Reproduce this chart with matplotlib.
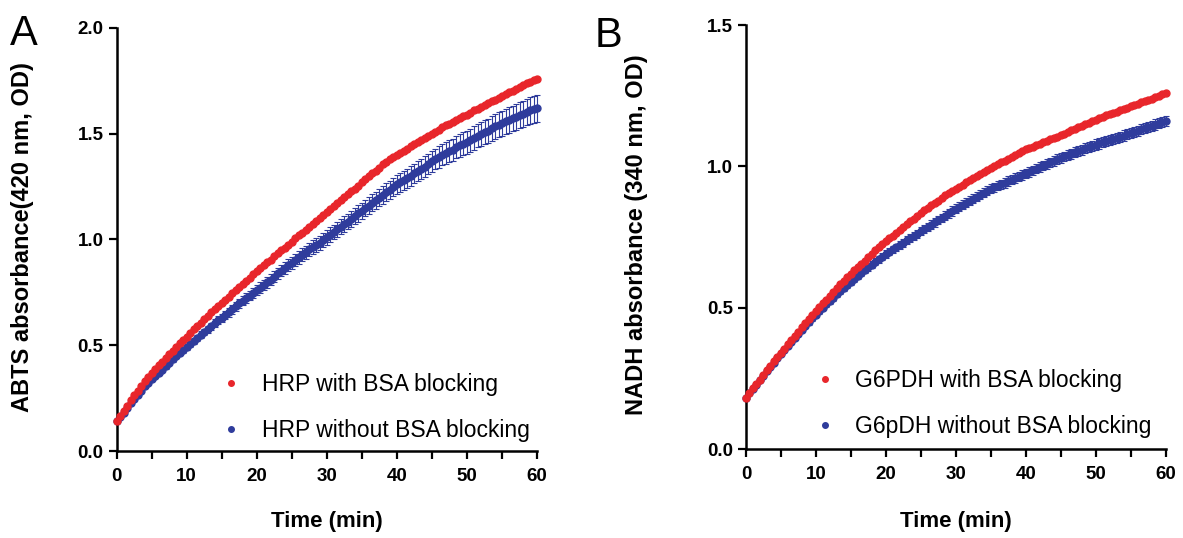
import matplotlib
matplotlib.use('Agg')
from matplotlib import pyplot as plt
from matplotlib.lines import Line2D
import numpy as np

# readings every 30 s over one hour
time_min = np.arange(0, 60.5, 0.5)

# panel A: ABTS absorbance at 420 nm (each row = 5 min)
hrp_bsa = [0.14, 0.165, 0.19, 0.215, 0.24, 0.263, 0.285, 0.308, 0.33, 0.35,
           0.37, 0.388, 0.405, 0.423, 0.44, 0.458, 0.475, 0.493, 0.51, 0.525,
           0.54, 0.558, 0.575, 0.59, 0.605, 0.623, 0.64, 0.655, 0.67, 0.685,
           0.70, 0.715, 0.73, 0.745, 0.76, 0.775, 0.79, 0.805, 0.82, 0.835,
           0.85, 0.865, 0.88, 0.893, 0.905, 0.92, 0.935, 0.948, 0.96, 0.975,
           0.99, 1.005, 1.02, 1.033, 1.045, 1.06, 1.075, 1.088, 1.10, 1.115,
           1.13, 1.145, 1.16, 1.173, 1.185, 1.20, 1.215, 1.228, 1.24, 1.255,
           1.27, 1.285, 1.30, 1.313, 1.325, 1.34, 1.355, 1.368, 1.38, 1.39,
           1.40, 1.41, 1.42, 1.43, 1.44, 1.45, 1.46, 1.47, 1.48, 1.49,
           1.50, 1.51, 1.52, 1.53, 1.54, 1.548, 1.555, 1.565, 1.575, 1.583,
           1.59, 1.60, 1.61, 1.618, 1.625, 1.635, 1.645, 1.653, 1.66, 1.67,
           1.68, 1.688, 1.695, 1.703, 1.71, 1.72, 1.73, 1.738, 1.745, 1.753,
           1.76]
hrp_nobsa = [0.14, 0.16, 0.18, 0.203, 0.225, 0.245, 0.265, 0.285, 0.305, 0.323,
             0.34, 0.355, 0.37, 0.385, 0.40, 0.418, 0.435, 0.45, 0.465, 0.478,
             0.49, 0.505, 0.52, 0.535, 0.55, 0.563, 0.575, 0.59, 0.605, 0.618,
             0.63, 0.643, 0.655, 0.67, 0.685, 0.698, 0.71, 0.723, 0.735, 0.748,
             0.76, 0.773, 0.785, 0.798, 0.81, 0.825, 0.84, 0.853, 0.865, 0.878,
             0.89, 0.903, 0.915, 0.928, 0.94, 0.953, 0.965, 0.975, 0.985, 0.998,
             1.01, 1.023, 1.035, 1.048, 1.06, 1.073, 1.085, 1.098, 1.11, 1.123,
             1.135, 1.148, 1.16, 1.173, 1.185, 1.198, 1.21, 1.223, 1.235, 1.248,
             1.26, 1.27, 1.28, 1.29, 1.30, 1.313, 1.325, 1.335, 1.345, 1.358,
             1.37, 1.38, 1.39, 1.40, 1.41, 1.418, 1.425, 1.435, 1.445, 1.453,
             1.46, 1.47, 1.48, 1.49, 1.50, 1.508, 1.515, 1.525, 1.535, 1.543,
             1.55, 1.558, 1.565, 1.573, 1.58, 1.588, 1.595, 1.603, 1.61, 1.615,
             1.62]
hrp_nobsa_err = [0.004, 0.004, 0.005, 0.005, 0.006, 0.006, 0.007, 0.007, 0.008, 0.008,
                 0.009, 0.009, 0.010, 0.010, 0.011, 0.011, 0.012, 0.012, 0.013, 0.013,
                 0.014, 0.014, 0.015, 0.015, 0.016, 0.016, 0.017, 0.017, 0.018, 0.018,
                 0.019, 0.019, 0.020, 0.020, 0.021, 0.021, 0.022, 0.022, 0.023, 0.023,
                 0.024, 0.024, 0.025, 0.025, 0.026, 0.026, 0.027, 0.027, 0.028, 0.028,
                 0.029, 0.029, 0.030, 0.030, 0.031, 0.031, 0.032, 0.032, 0.033, 0.033,
                 0.034, 0.034, 0.035, 0.035, 0.036, 0.036, 0.037, 0.037, 0.038, 0.038,
                 0.039, 0.039, 0.040, 0.040, 0.041, 0.041, 0.042, 0.042, 0.043, 0.043,
                 0.044, 0.044, 0.045, 0.045, 0.046, 0.046, 0.047, 0.047, 0.048, 0.048,
                 0.049, 0.049, 0.050, 0.050, 0.051, 0.051, 0.052, 0.052, 0.053, 0.053,
                 0.054, 0.054, 0.055, 0.055, 0.056, 0.056, 0.057, 0.057, 0.058, 0.058,
                 0.059, 0.059, 0.060, 0.060, 0.061, 0.061, 0.062, 0.062, 0.063, 0.063,
                 0.064]

# panel B: NADH absorbance at 340 nm
g6pdh_bsa = [0.18, 0.198, 0.215, 0.23, 0.245, 0.263, 0.28, 0.295, 0.31, 0.325,
             0.34, 0.355, 0.37, 0.385, 0.40, 0.415, 0.43, 0.445, 0.46, 0.475,
             0.49, 0.503, 0.515, 0.528, 0.54, 0.555, 0.57, 0.583, 0.595, 0.608,
             0.62, 0.633, 0.645, 0.655, 0.665, 0.678, 0.69, 0.703, 0.715, 0.725,
             0.735, 0.745, 0.755, 0.765, 0.775, 0.785, 0.795, 0.805, 0.815, 0.825,
             0.835, 0.844, 0.853, 0.862, 0.87, 0.879, 0.888, 0.897, 0.905, 0.913,
             0.92, 0.928, 0.935, 0.943, 0.95, 0.958, 0.965, 0.973, 0.98, 0.988,
             0.995, 1.002, 1.008, 1.014, 1.02, 1.027, 1.033, 1.04, 1.046, 1.053,
             1.06, 1.065, 1.07, 1.075, 1.08, 1.085, 1.09, 1.095, 1.10, 1.105,
             1.11, 1.116, 1.122, 1.128, 1.133, 1.139, 1.144, 1.15, 1.155, 1.16,
             1.165, 1.17, 1.175, 1.18, 1.185, 1.19, 1.194, 1.199, 1.203, 1.208,
             1.212, 1.217, 1.222, 1.227, 1.231, 1.236, 1.24, 1.245, 1.25, 1.255,
             1.26]
g6pdh_nobsa = [0.18, 0.197, 0.213, 0.228, 0.243, 0.26, 0.276, 0.291, 0.306, 0.321,
               0.335, 0.35, 0.364, 0.379, 0.393, 0.407, 0.421, 0.435, 0.448, 0.462,
               0.475, 0.488, 0.50, 0.512, 0.523, 0.535, 0.547, 0.559, 0.57, 0.581,
               0.592, 0.603, 0.613, 0.623, 0.633, 0.643, 0.652, 0.662, 0.671, 0.681,
               0.69, 0.698, 0.706, 0.714, 0.722, 0.73, 0.738, 0.746, 0.754, 0.762,
               0.77, 0.778, 0.786, 0.794, 0.802, 0.81, 0.818, 0.826, 0.834, 0.842,
               0.85, 0.857, 0.864, 0.871, 0.878, 0.885, 0.892, 0.899, 0.906, 0.913,
               0.92, 0.926, 0.931, 0.937, 0.942, 0.948, 0.953, 0.959, 0.964, 0.97,
               0.975, 0.981, 0.986, 0.992, 0.997, 1.003, 1.008, 1.014, 1.019, 1.025,
               1.03, 1.035, 1.04, 1.045, 1.05, 1.055, 1.059, 1.064, 1.068, 1.073,
               1.077, 1.081, 1.085, 1.089, 1.093, 1.097, 1.101, 1.105, 1.109, 1.113,
               1.117, 1.122, 1.126, 1.131, 1.135, 1.14, 1.144, 1.148, 1.152, 1.156,
               1.16]
g6pdh_nobsa_err = [0.002, 0.002, 0.003, 0.003, 0.003, 0.004, 0.004, 0.004, 0.005, 0.005,
                   0.005, 0.006, 0.006, 0.006, 0.007, 0.007, 0.007, 0.008, 0.008, 0.008,
                   0.009, 0.009, 0.009, 0.009, 0.010, 0.010, 0.010, 0.010, 0.011, 0.011,
                   0.011, 0.011, 0.011, 0.012, 0.012, 0.012, 0.012, 0.012, 0.013, 0.013,
                   0.013, 0.013, 0.013, 0.013, 0.014, 0.014, 0.014, 0.014, 0.014, 0.014,
                   0.014, 0.015, 0.015, 0.015, 0.015, 0.015, 0.015, 0.015, 0.015, 0.016,
                   0.016, 0.016, 0.016, 0.016, 0.016, 0.016, 0.016, 0.016, 0.016, 0.016,
                   0.016, 0.016, 0.016, 0.016, 0.017, 0.017, 0.017, 0.017, 0.017, 0.017,
                   0.017, 0.017, 0.017, 0.017, 0.017, 0.017, 0.017, 0.017, 0.017, 0.017,
                   0.017, 0.017, 0.018, 0.018, 0.018, 0.018, 0.018, 0.018, 0.018, 0.018,
                   0.018, 0.018, 0.018, 0.018, 0.018, 0.018, 0.018, 0.018, 0.018, 0.018,
                   0.018, 0.018, 0.018, 0.018, 0.018, 0.018, 0.018, 0.018, 0.018, 0.018,
                   0.018]

RED = '#e8262b'
BLUE = '#2f3c9c'
NARROW = ['Liberation Sans Narrow', 'Liberation Sans', 'DejaVu Sans']
PLAIN = ['Liberation Sans', 'Arial', 'DejaVu Sans']


def style_axis(ax, ymax, ystep, ylabel, ylabel_x, xlabel_y):
    ax.set_xlim(0, 60)
    ax.set_ylim(0, ymax)
    ax.set_xticks(range(0, 61, 10))
    ax.set_xticks(range(5, 60, 10), minor=True)
    yt = np.arange(0, ymax + 0.001, ystep)
    ax.set_yticks(yt)
    ax.set_yticklabels(['%.1f' % v for v in yt])
    for side in ('top', 'right'):
        ax.spines[side].set_visible(False)
    for side in ('left', 'bottom'):
        ax.spines[side].set_linewidth(1.8)
    ax.tick_params(which='both', direction='out', length=5.8, width=1.6)
    ax.tick_params(axis='x', which='both', pad=6.5)
    ax.tick_params(axis='y', pad=3.5)
    for lab in ax.get_xticklabels() + ax.get_yticklabels():
        lab.set_family(NARROW)
        lab.set_fontweight('bold')
        lab.set_fontsize(13.5)
    ax.set_xlabel('Time (min)', family=NARROW, fontweight='bold', fontsize=16)
    ax.xaxis.set_label_coords(0.5, xlabel_y)
    ax.set_ylabel(ylabel, family=PLAIN, fontweight='bold', fontsize=17)
    ax.yaxis.set_label_coords(ylabel_x, 0.505)


def draw_panel(ax, y_with, y_without, err_without, labels, legend_anchor):
    ax.errorbar(time_min, y_without, yerr=err_without, fmt='o', color=BLUE, ms=5,
                elinewidth=0.8, capsize=2, capthick=0.8, clip_on=False, zorder=2)
    ax.plot(time_min, y_with, 'o', color=RED, ms=5, clip_on=False, zorder=3)
    handles = [Line2D([], [], marker='o', ls='none', color=RED, ms=4),
               Line2D([], [], marker='o', ls='none', color=BLUE, ms=4)]
    ax.legend(handles, labels, loc='upper left', bbox_to_anchor=legend_anchor,
              frameon=False, prop={'family': PLAIN, 'size': 16.5},
              handletextpad=0.6, labelspacing=0.98, handlelength=1.5)


fig = plt.figure(figsize=(11.83, 5.38), dpi=100)
ax_a = fig.add_axes([0.0985, 0.1617, 0.3555, 0.7863])
ax_b = fig.add_axes([0.6306, 0.1654, 0.3550, 0.7881])

draw_panel(ax_a, hrp_bsa, hrp_nobsa, hrp_nobsa_err,
           ['HRP with BSA blocking', 'HRP without BSA blocking'], (0.183, 0.232))
style_axis(ax_a, 2.0, 0.5, 'ABTS absorbance(420 nm, OD)', -0.197, -0.142)

draw_panel(ax_b, g6pdh_bsa, g6pdh_nobsa, g6pdh_nobsa_err,
           ['G6PDH with BSA blocking', 'G6pDH without BSA blocking'], (0.097, 0.237))
style_axis(ax_b, 1.5, 0.5, 'NADH absorbance (340 nm, OD)', -0.233, -0.146)

fig.text(0.008, 0.974, 'A', family=PLAIN, fontsize=30, va='top')
fig.text(0.503, 0.971, 'B', family=PLAIN, fontsize=30, va='top')

fig.savefig('out.png', dpi=100)
